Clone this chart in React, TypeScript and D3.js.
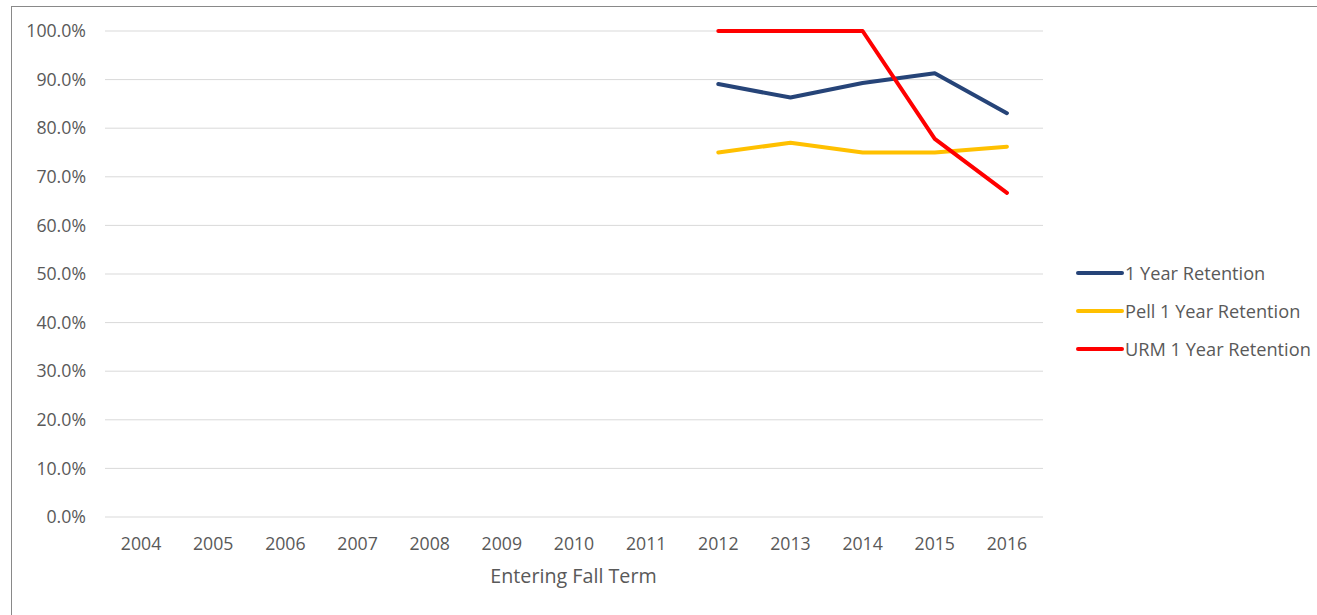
import React from "react";
import * as d3 from "d3";

const years = ["2004","2005","2006","2007","2008","2009","2010","2011","2012","2013","2014","2015","2016"];
const retention: (number | null)[] = [null,null,null,null,null,null,null,null,0.891,0.863,0.893,0.913,0.831];
const pellRetention: (number | null)[] = [null,null,null,null,null,null,null,null,0.750,0.770,0.750,0.750,0.762];
const urmRetention: (number | null)[] = [null,null,null,null,null,null,null,null,1.0,1.0,1.0,0.778,0.667];
const yTicks = [0,0.1,0.2,0.3,0.4,0.5,0.6,0.7,0.8,0.9,1.0];
const seriesNames = ["1 Year Retention","Pell 1 Year Retention","URM 1 Year Retention"];
const seriesColors = ["#264478","#FFC000","#FF0000"];

export default function App() {
  const W = 1317, H = 615;
  const left = 105, right = 1043, top = 31, bottom = 517;
  const x = d3.scaleBand().domain(years).range([left, right]);
  const y = d3.scaleLinear().domain([0, 1]).range([bottom, top]);
  const font = "'Open Sans', sans-serif";
  const data = [retention, pellRetention, urmRetention];
  const line = d3.line<number | null>()
    .defined(d => d != null)
    .x((_, i) => (x(years[i]) as number) + x.bandwidth() / 2)
    .y(d => y(d as number));
  return (
    <svg width={W} height={H} style={{ position: "absolute", left: 0, top: 0, background: "#fff" }} fontFamily={font}>
      <rect x={11.5} y={6.5} width={W + 20} height={H + 20} fill="#fff" stroke="#898989" strokeWidth={1} />
      {yTicks.map(t => (
        <g key={t}>
          <line x1={left} x2={right} y1={y(t)} y2={y(t)} stroke="#d9d9d9" strokeWidth={1} />
          <text x={86} y={y(t)} dy="0.35em" textAnchor="end" fontSize={17.7} fill="#595959">{(t * 100).toFixed(1) + "%"}</text>
        </g>
      ))}
      {years.map(yr => (
        <text key={yr} x={(x(yr) as number) + x.bandwidth() / 2} y={544} dy="0.35em" textAnchor="middle" fontSize={17.7} fill="#595959">{yr}</text>
      ))}
      <text x={(left + right) / 2 - 0.5} y={576} dy="0.35em" textAnchor="middle" fontSize={19.7} fill="#595959">Entering Fall Term</text>
      {data.map((d, i) => (
        <path key={i} d={line(d) || ""} fill="none" stroke={seriesColors[i]} strokeWidth={4} strokeLinejoin="round" strokeLinecap="round" />
      ))}
      {seriesNames.map((n, i) => (
        <g key={n}>
          <line x1={1078} x2={1122} y1={273 + i * 38} y2={273 + i * 38} stroke={seriesColors[i]} strokeWidth={4} strokeLinecap="round" />
          <text x={1125} y={274 + i * 38} dy="0.35em" fontSize={18.2} fill="#595959">{n}</text>
        </g>
      ))}
    </svg>
  );
}
